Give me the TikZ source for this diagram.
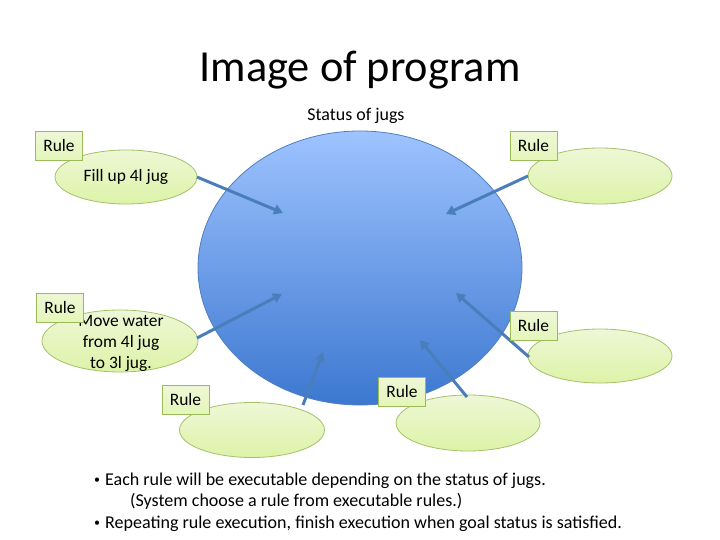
\documentclass[tikz,border=0pt]{standalone}
\usepackage{fontspec}
\setmainfont{Carlito}
\usetikzlibrary{shapes.geometric,arrows.meta}
\definecolor{arrowblue}{HTML}{4A7EBB}
\definecolor{bigtop}{HTML}{9EC3FF}
\definecolor{bigbot}{HTML}{3C78D0}
\definecolor{bigedge}{HTML}{4F7FBF}
\definecolor{grtop}{HTML}{EEF7D6}
\definecolor{grbot}{HTML}{DDF3A8}
\definecolor{gredge}{HTML}{A6C06A}
\definecolor{boxedge}{HTML}{9BBB59}
\newcommand{\smallbul}{\raisebox{1.5bp}{\fontsize{12}{12}\selectfont\textbullet}\hspace{5bp}}
\begin{document}
\begin{tikzpicture}[x=1bp,y=-1bp,
  fs/.style={font=\fontsize{#1}{#1}\selectfont},
  bigell/.style={ellipse,draw=bigedge,line width=0.8bp,shading=axis,top color=bigtop,bottom color=bigbot,minimum width=324bp,minimum height=274bp,inner sep=0pt},
  greenell/.style={ellipse,draw=gredge,line width=0.8bp,shading=axis,top color=grtop,bottom color=grbot,inner sep=0pt,align=center,fs=17.5},
  rulebox/.style={draw=boxedge,line width=0.8bp,shading=axis,top color=grtop,bottom color=grbot!80!white,minimum width=47bp,minimum height=29bp,inner sep=0pt,fs=17.5},
  conn/.style={draw=arrowblue,line width=3bp,-{Triangle[length=9bp,width=10bp]}},
  txt/.style={fs=17.5,inner sep=0pt},
  btxt/.style={fs=18.1,inner sep=0pt}]
\useasboundingbox (0,0) rectangle (720,540);
\fill[white] (0,0) rectangle (720,540);

\node[fs=44.5,inner sep=0pt,anchor=base] (title) at (360,82) {Image of program};
\node[fs=18,inner sep=0pt,anchor=base] (status) at (356,121) {Status of jugs};

\node[bigell] (big) at (360,268) {};

\node[greenell,minimum width=142bp,minimum height=54bp] (e1) at (126,177) {Fill up 4l jug};
\node[greenell,minimum width=144bp,minimum height=56bp] (e2) at (600,176) {};
\node[greenell,minimum width=156bp,minimum height=62bp] (e3) at (120,341) {};
\node[txt,align=center,anchor=center,font=\fontsize{17.5}{21}\selectfont] (e3t) at (121,343) {Move water\\from 4l jug\\to 3l jug.};
\node[greenell,minimum width=144bp,minimum height=54bp] (e4) at (600,356) {};
\node[greenell,minimum width=145bp,minimum height=55bp] (e5) at (252,430) {};
\node[greenell,minimum width=144bp,minimum height=56bp] (e6) at (468,423) {};

\coordinate (t1) at (283,213);
\coordinate (t2) at (446,214);
\coordinate (t3) at (282,294);
\coordinate (t4) at (456,293);
\coordinate (t5) at (323,352);
\coordinate (t6) at (420,340);
\coordinate (s1) at (197,177);
\coordinate (s2) at (528,176);
\coordinate (s3) at (197,338);
\coordinate (s4) at (529,357);
\coordinate (s5) at (303,405);
\coordinate (s6) at (467,397);

\draw[conn] (s1) -- (t1);
\draw[conn] (s2) -- (t2);
\draw[conn] (s3) -- (t3);
\draw[conn] (s4) -- (t4);
\draw[conn] (s5) -- (t5);
\draw[conn] (s6) -- (t6);

\node[rulebox] (r1) at (59,146) {Rule};
\node[rulebox] (r2) at (533.5,146) {Rule};
\node[rulebox] (r3) at (60,307.5) {Rule};
\node[rulebox] (r4) at (533.5,326) {Rule};
\node[rulebox] (r5) at (185.5,399.5) {Rule};
\node[rulebox] (r6) at (402,391.5) {Rule};

\node[btxt,anchor=base west] (b1) at (94,485) {\smallbul Each rule will be executable depending on the status of jugs.};
\node[btxt,anchor=base west] (b2) at (130,506) {(System choose a rule from executable rules.)};
\node[btxt,anchor=base west] (b3) at (94,528) {\smallbul Repeating rule execution, finish execution when goal status is satisfied.};
\end{tikzpicture}
\end{document}
